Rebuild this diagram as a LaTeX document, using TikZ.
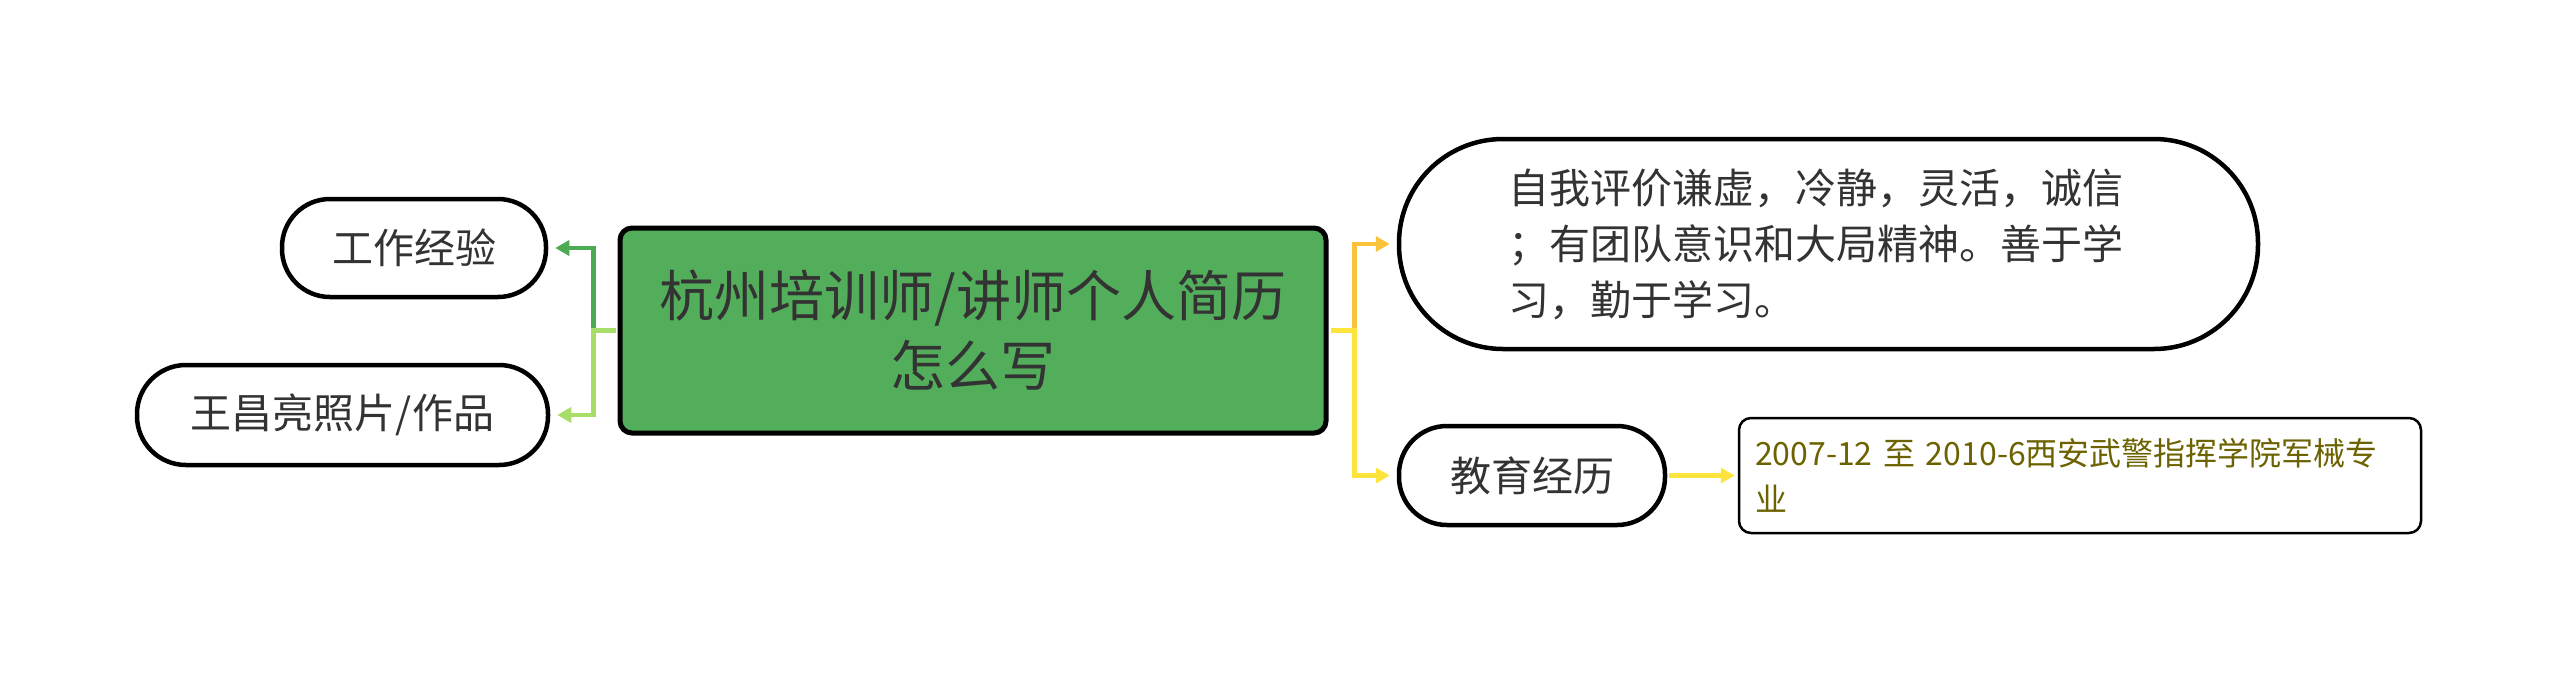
\documentclass[tikz,border=0pt]{standalone}
\usepackage{fontspec}
\setmainfont{Noto Sans CJK SC}
\usetikzlibrary{arrows.meta}
\definecolor{rootgreen}{RGB}{83,174,92}
\definecolor{txt}{RGB}{51,51,51}
\definecolor{boxtext}{RGB}{108,98,0}
\definecolor{dkgreen}{RGB}{76,170,84}
\definecolor{ltgreen}{RGB}{166,222,104}
\definecolor{orangey}{RGB}{249,196,60}
\definecolor{yellowy}{RGB}{252,228,60}
\begin{document}
\begin{tikzpicture}[x=1pt,y=-1pt,
  every node/.style={text=txt},
  pill/.style={draw=black, line width=4.5pt, fill=white, inner sep=0pt, font=\fontsize{41}{56}\selectfont},
  conn/.style={line width=4.5pt, -{Triangle[length=14pt,width=15pt]}, shorten >=7pt, shorten <=2pt},
]
\useasboundingbox (0,0) rectangle (2560,673);
\node[draw=black, line width=5pt, fill=rootgreen, rounded corners=12pt, minimum width=706pt, minimum height=205pt, inner sep=0pt, align=center, font=\fontsize{55}{70}\selectfont] (root) at (973,330.5) {杭州培训师/讲师个人简历\\怎么写};
\node[pill, rounded corners=48pt, minimum width=264pt, minimum height=98pt] (work) at (414,248) {工作经验};
\node[pill, rounded corners=49pt, minimum width=411pt, minimum height=100pt] (photo) at (342.5,415) {王昌亮照片/作品};
\node[pill, rounded corners=104pt, minimum width=859pt, minimum height=210pt, text width=640pt, align=left] (self) at (1828.5,244) {自我评价谦虚，冷静，灵活，诚信\\；有团队意识和大局精神。善于学\\习，勤于学习。};
\node[pill, rounded corners=48pt, minimum width=266pt, minimum height=99pt] (edu) at (1532,475.5) {教育经历};
\node[draw=black, line width=2.5pt, fill=white, rounded corners=12pt, minimum width=682pt, minimum height=115pt, text width=650pt, align=left, inner sep=0pt, text=boxtext, font=\fontsize{32}{46}\selectfont] (box) at (2080,475.5) {2007-12 至 2010-6西安武警指挥学院军械专\\业};
\draw[conn, dkgreen] (root.west) -- ++(-24,0) |- (work.east);
\draw[conn, ltgreen] (root.west) -- ++(-24,0) |- (photo.east);
\draw[conn, orangey] (root.east) -- ++(26,0) |- (self.west);
\draw[conn, yellowy] (root.east) -- ++(26,0) |- (edu.west);
\draw[conn, yellowy, shorten >=3pt] (edu.east) -- (box.west);
\end{tikzpicture}
\end{document}
